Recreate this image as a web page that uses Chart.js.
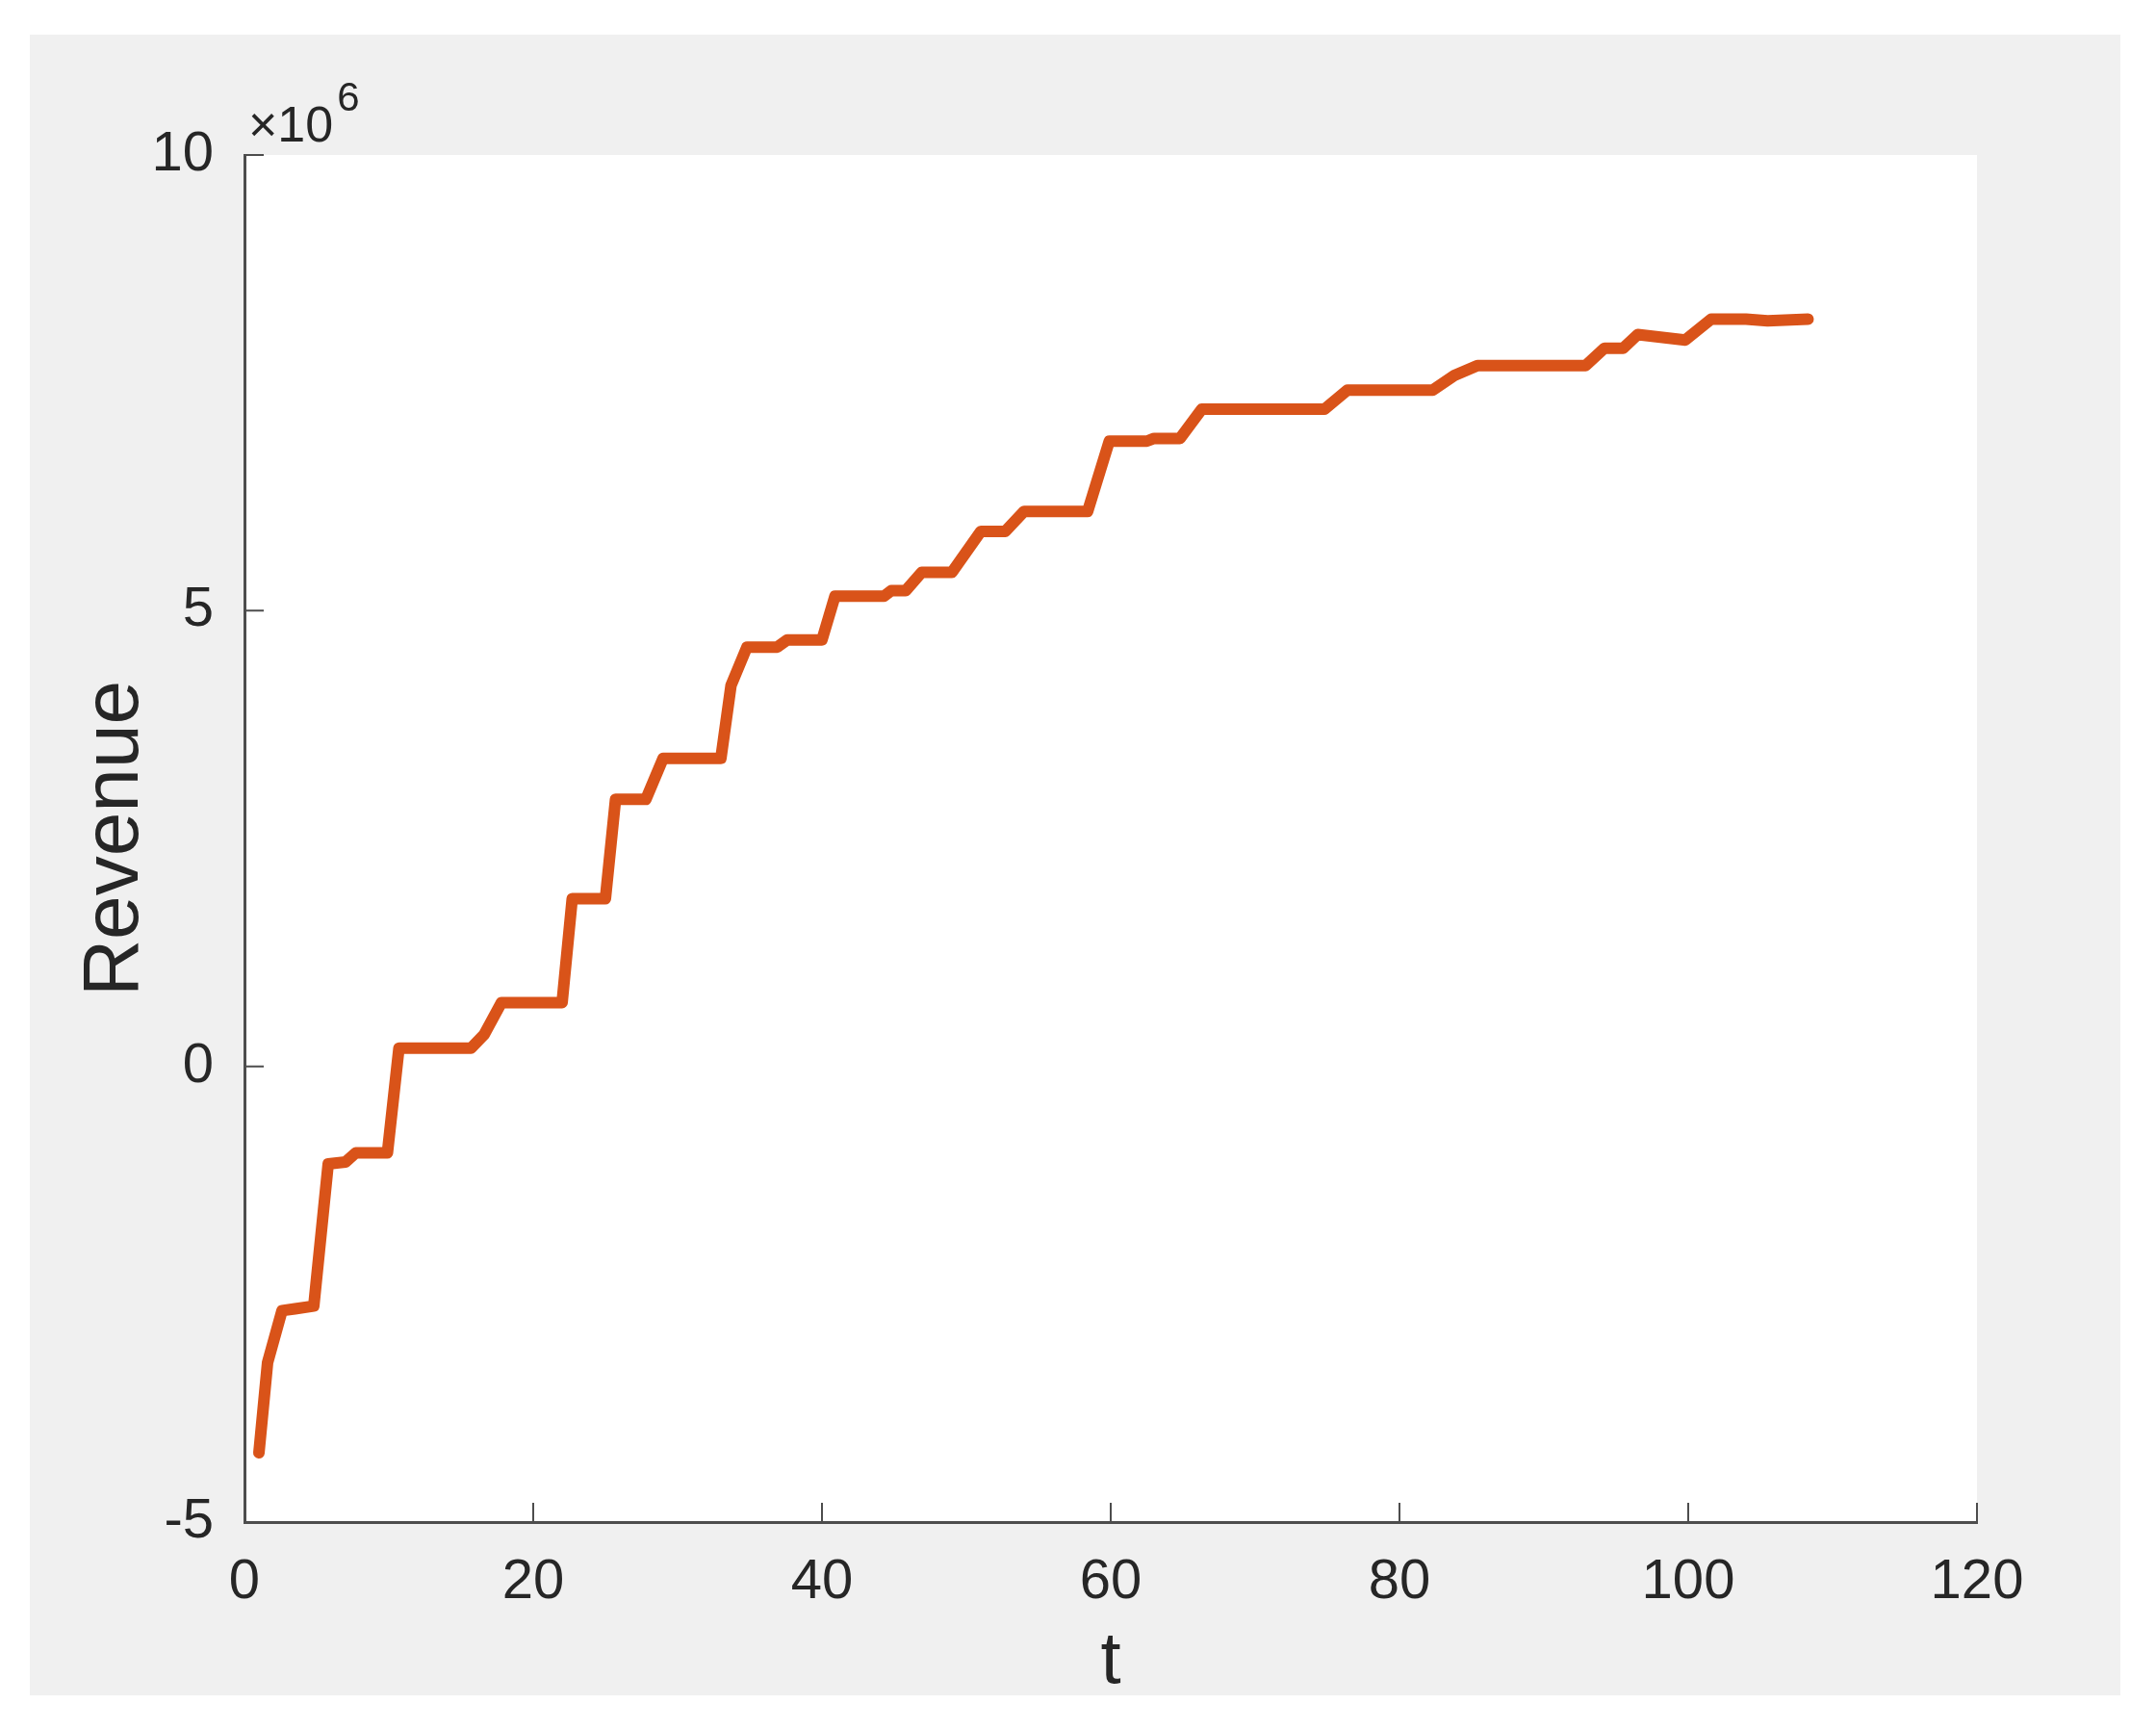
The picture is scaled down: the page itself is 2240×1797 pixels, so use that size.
<!DOCTYPE html>
<html>
<head>
<meta charset="utf-8">
<script src="https://cdn.jsdelivr.net/npm/chart.js@4"></script>
<style>
  html, body { margin: 0; padding: 0; background: #ffffff; }
  #panel { position: absolute; left: 31px; top: 36px; width: 2172px; height: 1725px; background: #f0f0f0; }
  #revChart { display: block; }
</style>
</head>
<body>
<div id="panel"><canvas id="revChart" width="2172" height="1725"></canvas></div>
<script>
// time steps
const tValues = [1.0, 1.6, 2.6, 3.5, 4.8, 5.8, 7.0, 7.7, 9.9, 10.7, 15.7, 16.6, 17.8, 22.0, 22.7, 25.0, 25.7,
  27.8, 29.0, 33.0, 33.7, 34.8, 36.9, 37.6, 40.0, 40.9, 44.3, 44.8, 45.8, 46.9, 49.0, 51.0, 52.7, 54.0,
  58.4, 59.9, 62.5, 63.0, 64.8, 66.3, 74.8, 76.4, 82.3, 83.8, 85.4, 92.9, 94.2, 95.5, 96.5, 99.8, 101.6,
  104.0, 105.5, 108.3];
// revenue in units of 1e6
const revenue = [-4.24, -3.25, -2.68, -2.66, -2.63, -1.07, -1.05, -0.95, -0.95, 0.20, 0.20, 0.35, 0.70, 0.70, 1.84, 1.84, 2.93,
  2.93, 3.38, 3.38, 4.18, 4.60, 4.60, 4.68, 4.68, 5.16, 5.16, 5.22, 5.22, 5.42, 5.42, 5.87, 5.87, 6.09,
  6.09, 6.86, 6.86, 6.89, 6.89, 7.21, 7.21, 7.42, 7.42, 7.58, 7.69, 7.69, 7.88, 7.88, 8.03, 7.97, 8.20,
  8.20, 8.18, 8.20];
const xTicks = [0, 20, 40, 60, 80, 100, 120];
const yTicks = [-5, 0, 5, 10];

const axisColor = '#4d4d4d';
const textColor = '#262626';
const fontFamily = '"Liberation Sans", Arial, Helvetica, sans-serif';

const points = tValues.map((t, i) => ({ x: t, y: revenue[i] }));

// white plot box, inward ticks and the x10^6 exponent
const matlabLook = {
    id: 'matlabLook',
    beforeDraw(chart) {
        const { ctx, chartArea: a } = chart;
        ctx.save();
        ctx.fillStyle = '#ffffff';
        ctx.fillRect(a.left, a.top, a.right - a.left, a.bottom - a.top);
        ctx.restore();
    },
    afterDraw(chart) {
        const { ctx, chartArea: a, scales } = chart;
        ctx.save();
        ctx.strokeStyle = axisColor;
        ctx.lineWidth = 2;
        ctx.beginPath();
        xTicks.forEach(v => {
            const px = scales.x.getPixelForValue(v);
            ctx.moveTo(px, a.bottom);
            ctx.lineTo(px, a.bottom - 20);
        });
        yTicks.forEach(v => {
            const py = scales.y.getPixelForValue(v);
            ctx.moveTo(a.left, py);
            ctx.lineTo(a.left + 20, py);
        });
        ctx.stroke();

        ctx.fillStyle = textColor;
        ctx.textBaseline = 'alphabetic';
        ctx.textAlign = 'left';
        ctx.font = '52px ' + fontFamily;
        ctx.fillText('\u00d710', a.left + 4, a.top - 14);
        const w = ctx.measureText('\u00d710').width;
        ctx.font = '42px ' + fontFamily;
        ctx.fillText('6', a.left + 8 + w, a.top - 46);
        ctx.restore();
    }
};

new Chart(document.getElementById('revChart').getContext('2d'), {
    type: 'line',
    data: {
        datasets: [{
            label: 'Revenue',
            data: points,
            borderColor: '#d95319',
            borderWidth: 12,
            pointRadius: 0,
            tension: 0,
            fill: false,
            borderCapStyle: 'round',
            borderJoinStyle: 'round'
        }]
    },
    options: {
        responsive: false,
        animation: false,
        layout: {
            padding: { left: 0, top: 125, right: 149, bottom: 0 }
        },
        scales: {
            x: {
                type: 'linear',
                min: 0,
                max: 120,
                afterFit: s => { s.height = 180; },
                afterBuildTicks: s => { s.ticks = xTicks.map(v => ({ value: v })); },
                grid: { display: false },
                border: { display: true, color: axisColor, width: 3 },
                ticks: { color: textColor, padding: 20, maxRotation: 0, font: { size: 58, family: fontFamily } },
                title: { display: true, text: 't', color: textColor, padding: { top: 0, bottom: 0 }, font: { size: 76, family: fontFamily, lineHeight: 0.9 } }
            },
            y: {
                min: -5,
                max: 10,
                afterFit: s => { s.width = 223; },
                afterBuildTicks: s => { s.ticks = yTicks.map(v => ({ value: v })); },
                grid: { display: false },
                border: { display: true, color: axisColor, width: 3 },
                ticks: { color: textColor, padding: 24, font: { size: 58, family: fontFamily } },
                title: { display: true, text: 'Revenue', color: textColor, padding: { top: 40, bottom: 0 }, font: { size: 82, family: fontFamily } }
            }
        },
        plugins: {
            legend: { display: false },
            tooltip: { enabled: false }
        }
    },
    plugins: [matlabLook]
});
</script>
</body>
</html>
